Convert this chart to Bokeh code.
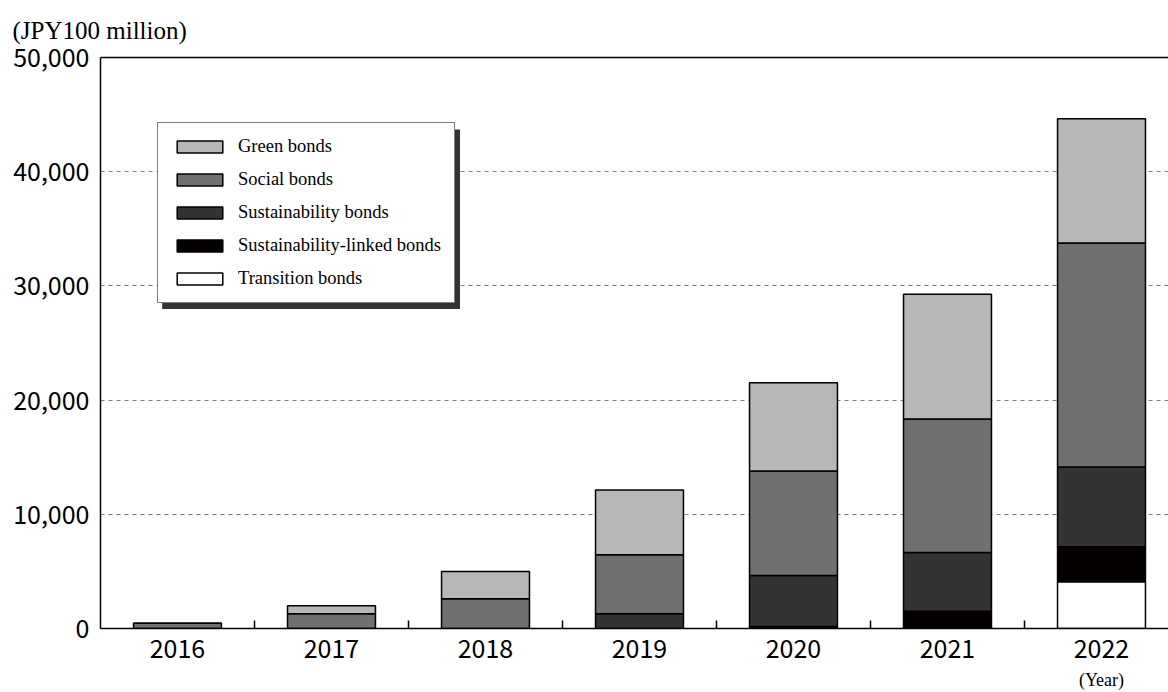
from bokeh.plotting import figure
from bokeh.models import (Range1d, FixedTicker, LinearAxis, Legend, LegendItem,
                          BoxAnnotation, NumeralTickFormatter)
from bokeh.embed import file_html
from bokeh.resources import INLINE

years = ["2016", "2017", "2018", "2019", "2020", "2021", "2022"]
transition = [0, 0, 0, 0, 0, 100, 4100]
linked = [0, 0, 0, 0, 170, 1420, 3050]
sustainability = [0, 0, 0, 1300, 4480, 5130, 7000]
social = [450, 1300, 2600, 5150, 9150, 11700, 19600]
green = [0, 700, 2400, 5680, 7720, 10910, 10890]

series_names = ["Transition bonds", "Sustainability-linked bonds", "Sustainability bonds",
                "Social bonds", "Green bonds"]
series_keys = ["transition", "linked", "sustainability", "social", "green"]
colors = ["#ffffff", "#050000", "#323432", "#707070", "#b7b7b7"]
y_ticks = [0, 10000, 20000, 30000, 40000, 50000]

xs = [i + 0.5 for i in range(len(years))]
data = dict(x=xs, transition=transition, linked=linked, sustainability=sustainability,
            social=social, green=green)

p = figure(width=1168, height=692, output_backend="svg", toolbar_location=None,
           x_range=Range1d(0, 1068 / 154), y_range=Range1d(0, 50000),
           min_border_left=100, min_border_right=0, min_border_top=57, min_border_bottom=64,
           background_fill_color="white", border_fill_color="white")
p.outline_line_color = None

renderers = p.vbar_stack(series_keys, x="x", width=0.571, source=data, fill_color=colors,
                         line_color="black", line_width=1.5)

TICK_FONT = "Noto Sans CJK JP"

# Axes
p.xaxis.ticker = FixedTicker(ticks=xs, minor_ticks=[1, 2, 3, 4, 5, 6])
p.xaxis.major_label_overrides = {x: y for x, y in zip(xs, years)}
p.xaxis.major_tick_line_color = None
p.xaxis.major_tick_in = 0
p.xaxis.major_tick_out = 0
p.xaxis.minor_tick_in = 8
p.xaxis.minor_tick_out = 0
p.xaxis.minor_tick_line_color = "black"
p.xaxis.minor_tick_line_width = 1.5
p.xaxis.axis_line_color = "black"
p.xaxis.axis_line_width = 1.5
p.xaxis.major_label_text_font = TICK_FONT
p.xaxis.major_label_text_font_size = "25px"
p.xaxis.major_label_text_color = "black"
p.xaxis.major_label_standoff = 10

p.yaxis.ticker = FixedTicker(ticks=y_ticks)
p.yaxis.formatter = NumeralTickFormatter(format="0,0")
p.yaxis.major_tick_line_color = None
p.yaxis.major_tick_in = 0
p.yaxis.major_tick_out = 0
p.yaxis.minor_tick_line_color = None
p.yaxis.axis_line_color = "black"
p.yaxis.axis_line_width = 1.5
p.yaxis.major_label_text_font = TICK_FONT
p.yaxis.major_label_text_font_size = "25px"
p.yaxis.major_label_text_color = "black"
p.yaxis.major_label_standoff = 11

# top border line
top_axis = LinearAxis(ticker=FixedTicker(ticks=[]), axis_line_color="black", axis_line_width=1.5,
                      major_tick_line_color=None, minor_tick_line_color=None,
                      major_tick_in=0, major_tick_out=0,
                      major_label_text_font_size="0px")
p.add_layout(top_axis, "above")

# "(Year)" label under 2022
year_axis = LinearAxis(ticker=FixedTicker(ticks=[xs[-1]]), axis_line_color=None,
                       major_tick_line_color=None, minor_tick_line_color=None,
                       major_tick_in=0, major_tick_out=0,
                       major_label_overrides={xs[-1]: "(Year)"},
                       major_label_text_font="Liberation Serif",
                       major_label_text_font_size="18px", major_label_text_color="black",
                       major_label_standoff=9)
p.add_layout(year_axis, "below")

# Grid
p.xgrid.grid_line_color = None
p.ygrid.ticker = FixedTicker(ticks=y_ticks[1:-1])
p.ygrid.grid_line_color = "#808080"
p.ygrid.grid_line_dash = "4 4"
p.ygrid.grid_line_width = 1

# Title
p.title.text = "(JPY100 million)"
p.title.text_font = "Liberation Serif"
p.title.text_font_size = "25px"
p.title.text_font_style = "normal"
p.title.text_color = "black"
p.title.align = "left"
p.title.offset = -88
p.title.standoff = 27

# Legend shadow
shadow = BoxAnnotation(left=(161.7 - 100) / 154, right=(459.5 - 100) / 154,
                       top=(627.7 - 128) / 11.434 * 1000, bottom=(627.7 - 307.7) / 11.434 * 1000,
                       fill_color="#333333", fill_alpha=1.0, line_color=None, level="overlay")
p.add_layout(shadow)

items = [LegendItem(label=n, renderers=[r]) for n, r in zip(series_names, renderers)]
items = items[::-1]
legend = Legend(items=items, location=(57, 325), orientation="vertical",
                glyph_width=57, glyph_height=15, label_standoff=10, label_height=20,
                spacing=12, padding=13, margin=0,
                label_text_font="Liberation Serif", label_text_font_size="18.5px",
                label_text_color="black", border_line_color="black", border_line_width=1,
                background_fill_color="white", background_fill_alpha=1.0)
p.add_layout(legend, "center")

open("out.html", "w").write(file_html(p, INLINE))
